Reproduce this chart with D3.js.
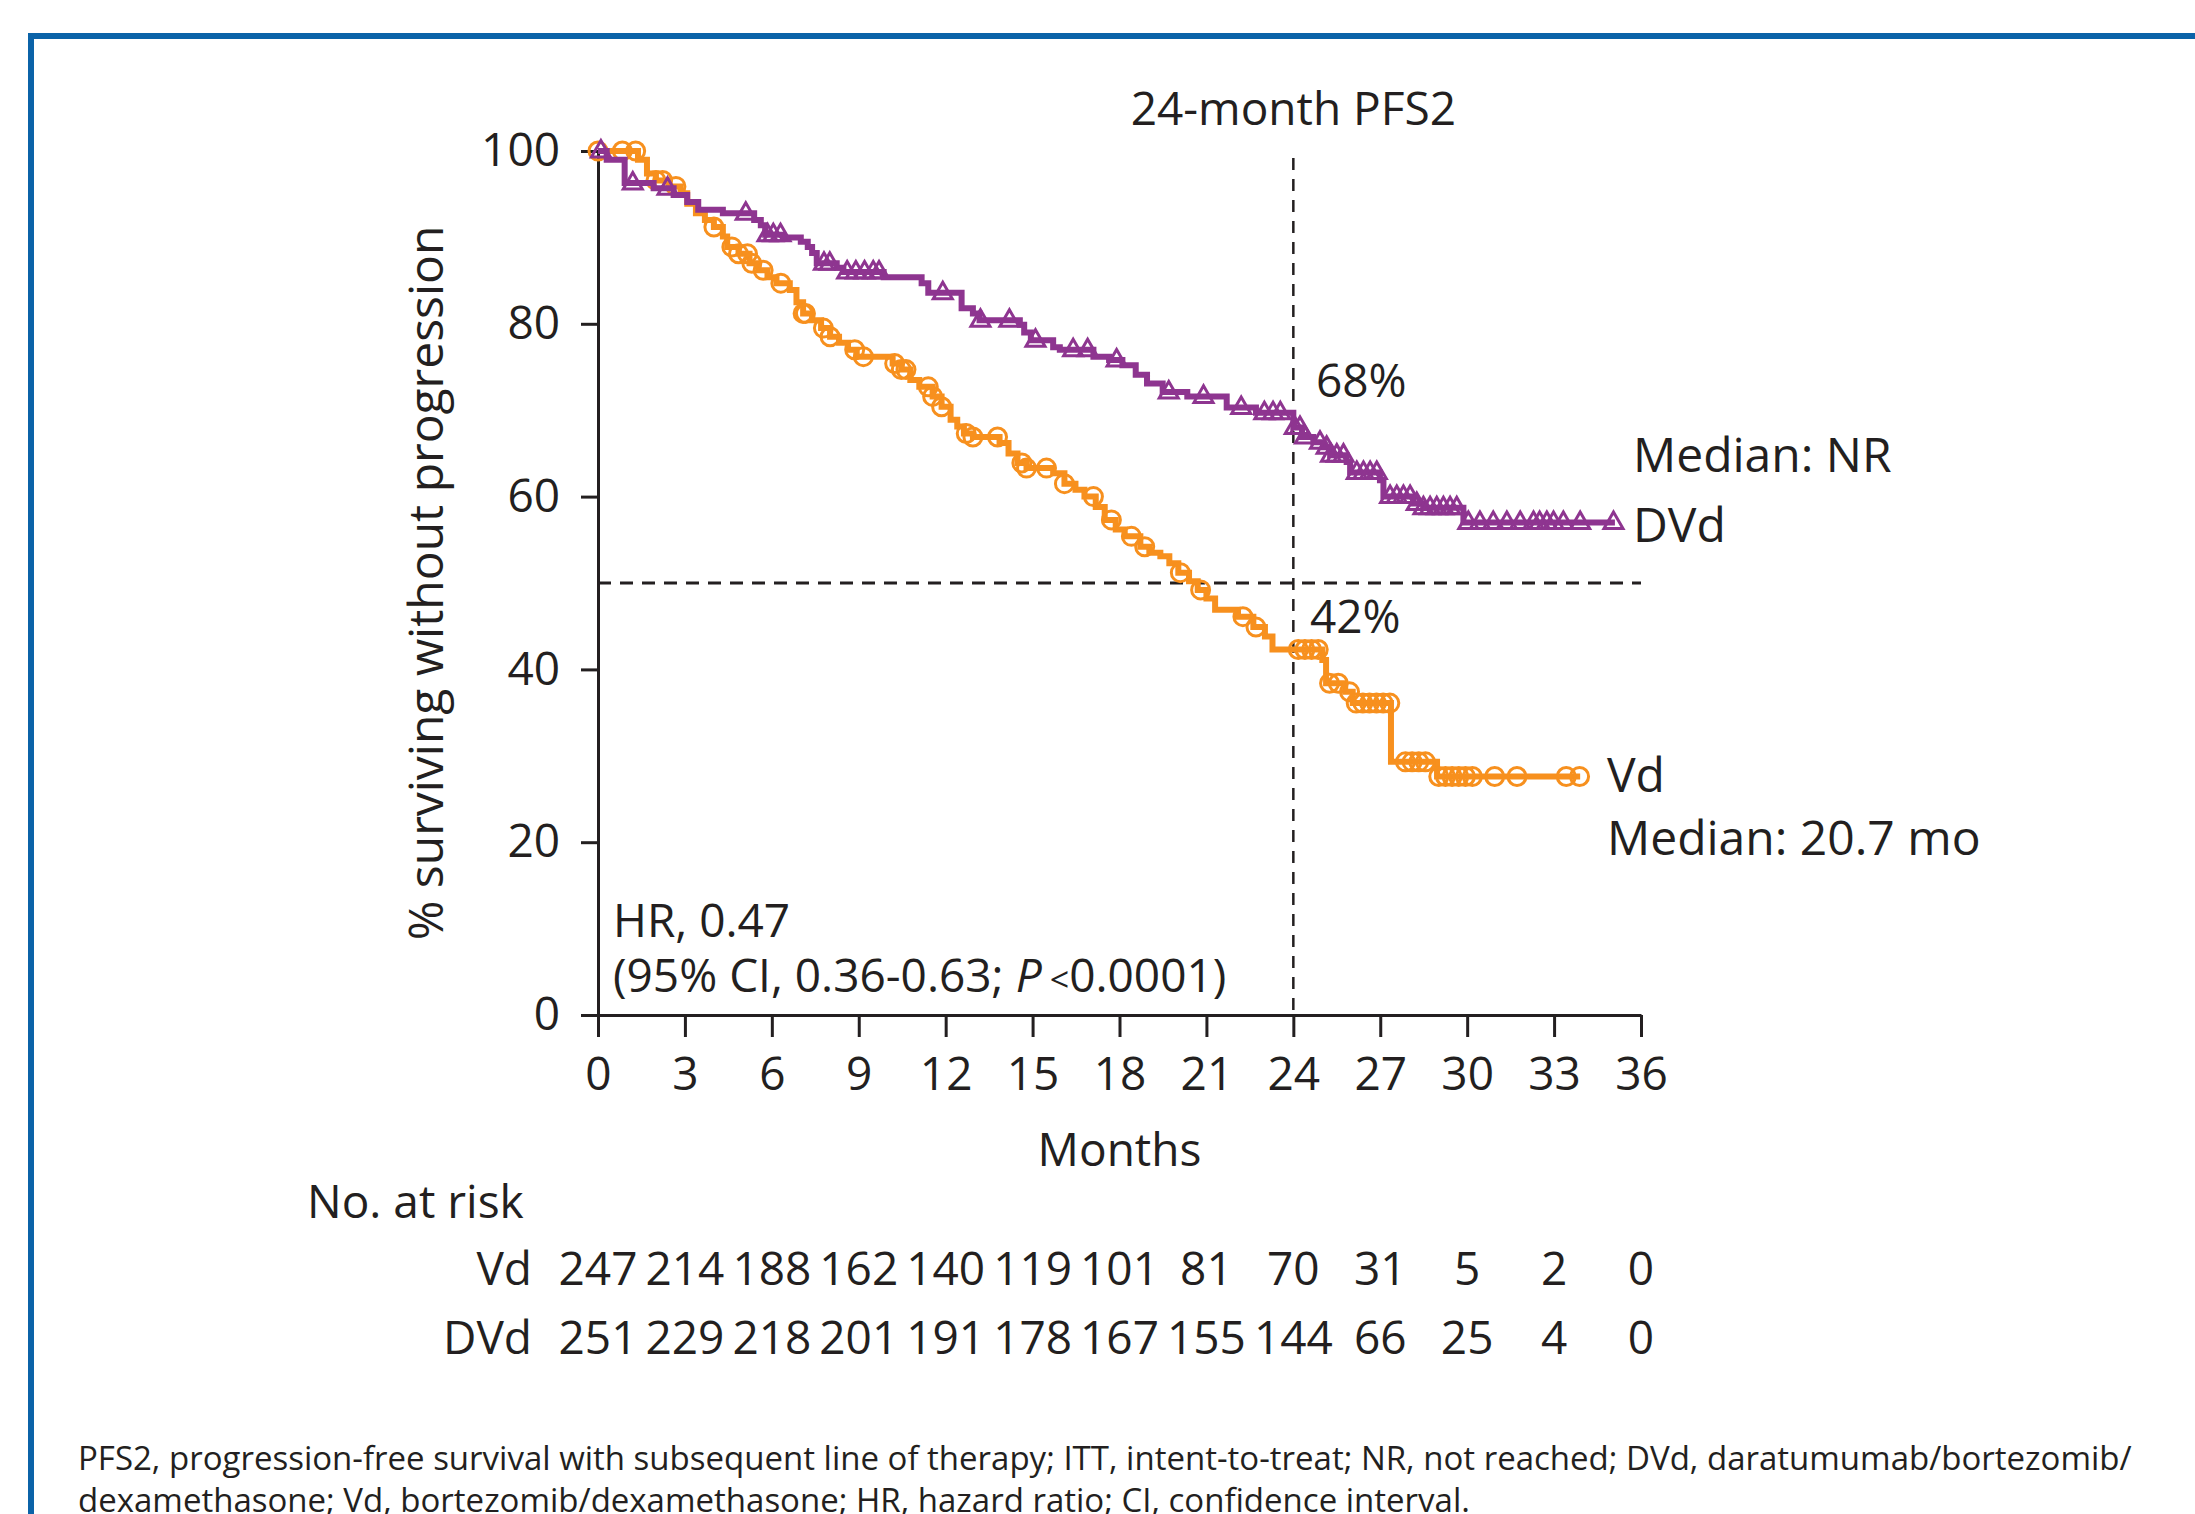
<!DOCTYPE html>
<html>
<head>
<meta charset="utf-8">
<script src="https://cdn.jsdelivr.net/npm/d3@7"></script>
<style>
  html, body { margin: 0; padding: 0; background: #fff; }
  svg { display: block; }
  text { font-family: "Open Sans", "Noto Sans", sans-serif; font-weight: 400; fill: #231f20; }
</style>
</head>
<body>
<svg id="chart" width="2195" height="1514"></svg>
<script>
// Kaplan–Meier step data: event times (months) and survival (%) after each step
const dvdTimes = [0, 0.3, 0.92, 1.92, 2.61, 3.08, 3.46, 4.31, 5.39, 5.62, 5.77, 6.39, 7.0, 7.24, 7.39, 7.55,
  8.24, 8.47, 9.86, 11.17, 11.4, 12.55, 12.94, 13.17, 14.56, 14.71, 14.94, 15.71, 15.94, 17.1, 17.64, 18.1,
  18.56, 18.95, 19.49, 20.34, 21.7, 22.71, 24.0, 24.3, 24.69, 25.04, 25.27, 25.84, 25.96, 26.99, 27.11,
  28.14, 28.48, 29.87];
const dvdSurv = [100, 99.0, 96.3, 95.7, 94.9, 94.1, 93.2, 92.8, 92.0, 91.4, 90.3, 90.0, 89.5, 88.9, 88.2, 87.0,
  86.5, 86.0, 85.4, 84.7, 83.6, 81.8, 81.2, 80.4, 79.9, 79.0, 78.1, 77.3, 77.0, 76.2, 75.8, 75.2,
  74.1, 73.1, 72.1, 71.6, 70.3, 69.7, 68.0, 66.9, 66.3, 65.7, 64.8, 64.0, 62.8, 61.9, 60.0,
  59.2, 58.7, 57.0];
const dvdEnd = 35.1;
const dvdCensor = [0.1, 1.2, 2.4, 5.1, 5.85, 6.05, 6.3, 7.8, 8.0, 8.6, 8.9, 9.2, 9.5, 9.7, 11.9, 13.2, 14.2,
  15.1, 16.4, 16.9, 17.9, 19.7, 20.9, 22.2, 23.0, 23.3, 23.55, 24.05, 24.23, 24.4, 24.92, 25.15, 25.3, 25.5,
  25.73, 26.19, 26.42, 26.65, 26.88, 27.34, 27.57, 27.8, 28.03, 28.26, 28.49, 28.72, 28.95, 29.18, 29.41,
  29.64, 30.04, 30.44, 30.9, 31.37, 31.83, 32.29, 32.5, 32.75, 32.98, 33.32, 33.9, 35.05];

const vdTimes = [0, 1.38, 1.69, 2.0, 2.46, 2.85, 3.08, 3.38, 3.69, 4.0, 4.31, 4.46, 4.85, 5.23, 5.54, 5.85,
  6.16, 6.62, 6.85, 7.08, 7.39, 7.7, 8.01, 8.32, 8.63, 8.93, 10.17, 10.47, 10.78, 11.09, 11.55, 11.86,
  12.17, 12.4, 12.63, 12.94, 13.86, 14.17, 14.48, 14.79, 15.71, 16.1, 16.48, 16.79, 17.18, 17.49, 17.87,
  18.18, 18.72, 19.03, 19.41, 19.72, 20.03, 20.4, 20.7, 21.0, 21.3, 22.09, 22.62, 23.02, 23.28, 25.0,
  25.13, 25.79, 26.05, 27.37, 28.96];
const vdSurv = [100, 99.0, 97.4, 96.6, 95.9, 95.1, 93.9, 92.8, 92.0, 91.2, 90.1, 88.9, 88.1, 87.0, 86.2, 85.4,
  84.7, 83.9, 82.5, 81.2, 80.4, 79.5, 78.5, 77.8, 77.0, 76.2, 75.4, 74.7, 73.5, 72.7, 71.6, 70.4,
  68.9, 68.1, 67.3, 66.9, 66.2, 65.0, 63.9, 63.3, 62.7, 61.5, 60.8, 60.0, 58.8, 57.3, 56.2,
  55.4, 54.2, 53.5, 53.1, 52.3, 51.2, 50.2, 49.2, 48.2, 46.9, 46.1, 44.9, 43.8, 42.3, 41.1,
  38.4, 37.4, 36.1, 29.3, 27.6];
const vdEnd = 33.9;
const vdCensor = [0, 0.84, 1.3, 2.0, 2.23, 2.69, 4.0, 4.62, 4.85, 5.16, 5.31, 5.7, 6.31, 7.08, 7.16, 7.78,
  8.01, 8.86, 9.16, 10.24, 10.47, 10.63, 11.4, 11.55, 11.86, 12.71, 12.94, 13.79, 14.63, 14.79, 15.48,
  16.1, 17.1, 17.72, 18.41, 18.87, 20.1, 20.8, 22.26, 22.71, 24.17, 24.4, 24.63, 24.86, 25.25, 25.55,
  25.94, 26.17, 26.4, 26.63, 26.87, 27.1, 27.33, 27.87, 28.1, 28.33, 28.56, 29.02, 29.25, 29.48,
  29.71, 29.94, 30.18, 30.95, 31.72, 33.42, 33.88];

// Axis ticks and numbers at risk
const monthTicks = [0, 3, 6, 9, 12, 15, 18, 21, 24, 27, 30, 33, 36];
const pctTicks = [0, 20, 40, 60, 80, 100];
const riskVd = [247, 214, 188, 162, 140, 119, 101, 81, 70, 31, 5, 2, 0];
const riskDVd = [251, 229, 218, 201, 191, 178, 167, 155, 144, 66, 25, 4, 0];

const landmarkMonth = 24;
const medianLine = 50;
const dvdAt24 = 68;
const vdAt24 = 42;

const purple = "#8e3590";
const orange = "#f7901e";
const ink = "#231f20";

const svg = d3.select("#chart");

// Framing rules (top and left)
svg.append("rect").attr("x", 28).attr("y", 33).attr("width", 2195 - 28).attr("height", 6).attr("fill", "#0b63a8");
svg.append("rect").attr("x", 28).attr("y", 33).attr("width", 6).attr("height", 1514 - 33).attr("fill", "#0b63a8");

const x = d3.scaleLinear().domain([0, 36]).range([598, 1641]);
const y = d3.scaleLinear().domain([0, 100]).range([1015, 151]);

// Axes
const yAxis = svg.append("g").attr("transform", `translate(${x(0)},0)`)
  .call(d3.axisLeft(y).tickValues(pctTicks).tickSize(17).tickPadding(21).tickSizeOuter(0));
const xAxis = svg.append("g").attr("transform", `translate(0,${y(0)})`)
  .call(d3.axisBottom(x).tickValues(monthTicks).tickSize(22).tickPadding(20).tickSizeOuter(0));
[yAxis, xAxis].forEach(g => {
  g.select(".domain").attr("stroke", ink).attr("stroke-width", 3);
  g.selectAll(".tick line").attr("stroke", ink).attr("stroke-width", 3);
  g.selectAll(".tick text").attr("font-size", 46).attr("fill", ink)
    .style("font-family", '"Open Sans", sans-serif');
});

// Reference lines
svg.append("line")
  .attr("x1", x(0)).attr("x2", x(36)).attr("y1", y(medianLine)).attr("y2", y(medianLine))
  .attr("stroke", ink).attr("stroke-width", 3).attr("stroke-dasharray", "13,9");
svg.append("line")
  .attr("x1", x(landmarkMonth)).attr("x2", x(landmarkMonth)).attr("y1", 158).attr("y2", y(0))
  .attr("stroke", ink).attr("stroke-width", 2.5).attr("stroke-dasharray", "12,9");

// Step curves
function stepPoints(times, surv, end) {
  const pts = times.map((t, i) => [t, surv[i]]);
  pts.push([end, surv[surv.length - 1]]);
  return pts;
}
function survAt(times, surv, t) {
  let s = surv[0];
  for (let i = 0; i < times.length; i++) if (times[i] <= t) s = surv[i];
  return s;
}
const stepLine = d3.line().x(d => x(d[0])).y(d => y(d[1])).curve(d3.curveStepAfter);

function drawArm(times, surv, end, censor, color, marker) {
  const g = svg.append("g");
  g.append("path").datum(stepPoints(times, surv, end))
    .attr("d", stepLine).attr("fill", "none").attr("stroke", color)
    .attr("stroke-width", 6).attr("stroke-linejoin", "miter");
  const m = g.selectAll("path.mark").data(censor).join("path").attr("class", "mark")
    .attr("transform", t => `translate(${x(t)},${y(survAt(times, surv, t))})`)
    .attr("fill", "none").attr("stroke", color).attr("stroke-width", 3);
  if (marker === "circle") {
    m.attr("d", d3.arc()({ innerRadius: 0, outerRadius: 9, startAngle: 0, endAngle: 2 * Math.PI }));
  } else {
    m.attr("d", "M-9.5,6L0,-10.5L9.5,6Z");
  }
}
drawArm(vdTimes, vdSurv, vdEnd, vdCensor, orange, "circle");
drawArm(dvdTimes, dvdSurv, dvdEnd, dvdCensor, purple, "triangle");

// Text annotations
function label(txt, px, py, size, anchor) {
  return svg.append("text").attr("x", px).attr("y", py).attr("font-size", size)
    .attr("text-anchor", anchor || "start").text(txt);
}
label("24-month PFS2", x(landmarkMonth), 125, 46, "middle");
label(`${dvdAt24}%`, 1316, 397, 46);
label(`${vdAt24}%`, 1310, 633, 46);
label("Median: NR", 1633, 472, 48);
label("DVd", 1633, 542, 48);
label("Vd", 1607, 792, 48);
label("Median: 20.7 mo", 1607, 855, 48);
label("HR, 0.47", 613, 937, 46);
const ci = svg.append("text").attr("x", 613).attr("y", 992).attr("font-size", 46);
ci.append("tspan").text("(95% CI, 0.36-0.63; ");
ci.append("tspan").attr("font-style", "italic").text("P");
ci.append("tspan").attr("font-size", 34).attr("dx", 8).text("<");
ci.append("tspan").text("0.0001)");

svg.append("text").attr("transform", `translate(443,${(y(0) + y(100)) / 2}) rotate(-90)`)
  .attr("text-anchor", "middle").attr("font-size", 48).text("% surviving without progression");
label("Months", (x(0) + x(36)) / 2, 1166, 46, "middle");

// Numbers at risk
label("No. at risk", 307, 1218, 46);
label("Vd", 532, 1285, 46, "end");
label("DVd", 532, 1354, 46, "end");
svg.append("g").selectAll("text").data(riskVd).join("text")
  .attr("x", (d, i) => x(monthTicks[i])).attr("y", 1285).attr("font-size", 46)
  .attr("text-anchor", "middle").text(d => d);
svg.append("g").selectAll("text").data(riskDVd).join("text")
  .attr("x", (d, i) => x(monthTicks[i])).attr("y", 1354).attr("font-size", 46)
  .attr("text-anchor", "middle").text(d => d);

// Footnote
label("PFS2, progression-free survival with subsequent line of therapy; ITT, intent-to-treat; NR, not reached; DVd, daratumumab/bortezomib/", 78, 1470, 33);
label("dexamethasone; Vd, bortezomib/dexamethasone; HR, hazard ratio; CI, confidence interval.", 78, 1512, 33);
</script>
</body>
</html>
